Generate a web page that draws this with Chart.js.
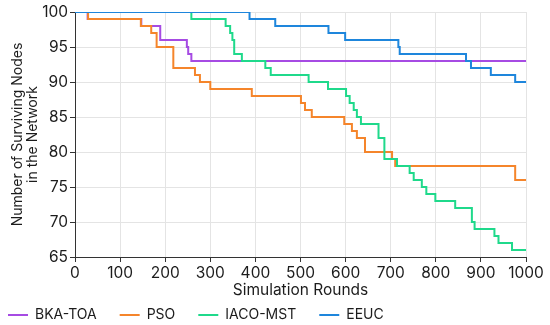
<!DOCTYPE html>
<html>
<head>
<meta charset="utf-8">
<title>Surviving nodes</title>
<script src="https://cdn.jsdelivr.net/npm/chart.js@4"></script>
<style>
  html, body { margin: 0; padding: 0; background: #fff; }
</style>
</head>
<body>
<canvas id="chart" width="550" height="325"></canvas>
<script>
"use strict";

// step series: at each round the count drops to the matching value
const bkaRounds = [0, 28, 147, 189, 248, 251, 258, 1000];
const bkaNodes  = [100, 99, 98, 96, 95, 94, 93, 93];

const psoRounds = [0, 29, 146, 169, 181, 218, 266, 277, 300, 392, 501, 510, 525, 597, 614, 625, 643, 703, 710, 976, 1000];
const psoNodes  = [100, 99, 98, 97, 95, 92, 91, 90, 89, 88, 87, 86, 85, 84, 83, 82, 80, 79, 78, 76, 76];

const iacoRounds = [0, 258, 334, 344, 349, 353, 370, 422, 434, 518, 561, 601, 609, 618, 625, 634, 673, 686, 714, 742, 751, 769, 779, 799, 843, 880, 886, 930, 939, 969, 1000];
const iacoNodes  = [100, 99, 98, 97, 96, 94, 93, 92, 91, 90, 89, 88, 87, 86, 85, 84, 82, 79, 78, 77, 76, 75, 74, 73, 72, 70, 69, 68, 67, 66, 66];

const eeucRounds = [0, 387, 444, 562, 599, 717, 720, 867, 878, 922, 976, 1000];
const eeucNodes  = [100, 99, 98, 97, 96, 95, 94, 93, 92, 91, 90, 90];

const seriesNames = ["BKA-TOA", "PSO", "IACO-MST", "EEUC"];
const xTitle = "Simulation Rounds";
const yTitle = ["Number of Surviving Nodes", "in the Network"];

const FONT = "Inter, 'DejaVu Sans', sans-serif";
const INK = "#1c1c1c";
const AXIS = "#333";
const GRID = "#e4e4e4";

const pts = (xs, ys) => xs.map((x, i) => ({ x, y: ys[i] }));

function series(label, xs, ys, color, order) {
  return {
    label,
    data: pts(xs, ys),
    borderColor: color,
    backgroundColor: color,
    borderWidth: 2,
    stepped: "before",
    pointRadius: 0,
    order, // later series sit on top, like the original
  };
}

// move the legend row to where the original has it
const legendNudge = {
  id: "legendNudge",
  afterLayout(chart) {
    const lg = chart.legend;
    if (!lg) return;
    lg.left -= 15;
    lg.right -= 15;
    lg.top += 7;
    lg.bottom += 7;
  },
};

new Chart(document.getElementById("chart"), {
  type: "line",
  data: {
    datasets: [
      series(seriesNames[0], bkaRounds, bkaNodes, "#a64be3", 4),
      series(seriesNames[1], psoRounds, psoNodes, "#f5852b", 3),
      series(seriesNames[2], iacoRounds, iacoNodes, "#1fd98b", 2),
      series(seriesNames[3], eeucRounds, eeucNodes, "#1e86dc", 1),
    ],
  },
  options: {
    responsive: false,
    animation: false,
    layout: { padding: { top: 12, right: 24, left: 0, bottom: 0 } },
    plugins: {
      tooltip: { enabled: false },
      legend: {
        position: "bottom",
        align: "start",
        labels: {
          usePointStyle: true,
          pointStyle: "line",
          pointStyleWidth: 20,
          padding: 23,
          color: INK,
          font: { family: FONT, size: 14 },
          sort: (a, b) => a.datasetIndex - b.datasetIndex,
        },
      },
    },
    scales: {
      x: {
        type: "linear",
        min: 0,
        max: 1000,
        ticks: {
          stepSize: 100,
          color: INK,
          padding: 2,
          font: { family: FONT, size: 15.5 },
          callback: (v) => String(v),
        },
        grid: { color: GRID, tickColor: AXIS, tickLength: 5 },
        border: { color: AXIS, width: 1 },
        title: {
          display: true,
          text: xTitle,
          color: INK,
          font: { family: FONT, size: 15.5 },
          padding: { top: 0, bottom: -22 },
        },
        afterFit: (s) => { s.height = 21; },
      },
      y: {
        min: 65,
        max: 100,
        ticks: { stepSize: 5, color: INK, padding: 2, font: { family: FONT, size: 15.5 } },
        grid: { color: GRID, tickColor: AXIS, tickLength: 5 },
        border: { color: AXIS, width: 1 },
        title: {
          display: true,
          text: yTitle,
          color: INK,
          font: { family: FONT, size: 14, lineHeight: 1.05 },
          padding: { top: 10.5, bottom: 0 },
        },
        afterFit: (s) => { s.width = 75; },
      },
    },
  },
  plugins: [legendNudge],
});
</script>
</body>
</html>
